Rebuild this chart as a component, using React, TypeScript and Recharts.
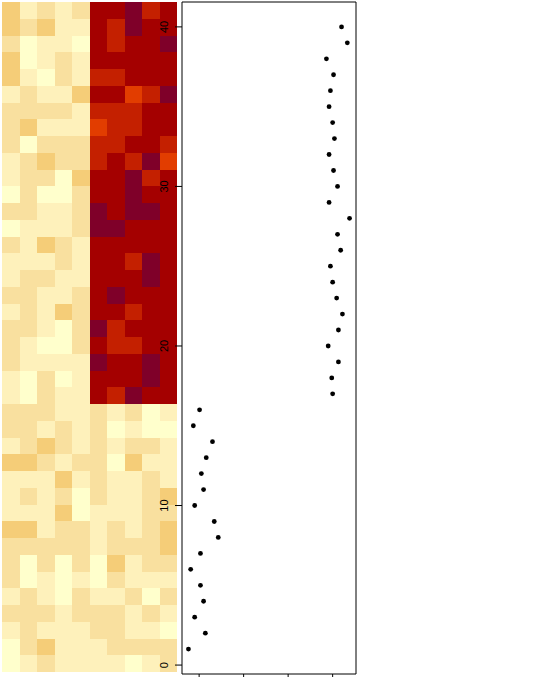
import React from 'react';
import { BarChart, Bar, XAxis, YAxis, ScatterChart, Scatter, ReferenceArea } from 'recharts';

// colour levels: 4 light (low values) then 4 dark (high values)
const HEAT_COLORS = ['#FFFFCC', '#FEF1BB', '#F9E09F', '#F5CD78', '#E23D00', '#C42000', '#A40000', '#7F0029'];

const COLUMNS = ['V1', 'V2', 'V3', 'V4', 'V5', 'V6', 'V7', 'V8', 'V9', 'V10'];

// heatmap levels, top row (row 40) first
const HEAT_ROWS = [
  [3, 1, 2, 1, 2, 6, 6, 7, 5, 6],
  [3, 2, 3, 1, 1, 6, 5, 7, 6, 6],
  [2, 0, 1, 1, 0, 6, 5, 6, 6, 7],
  [3, 0, 1, 2, 1, 6, 6, 6, 6, 6],
  [3, 1, 0, 2, 1, 5, 5, 6, 6, 6],
  [1, 2, 1, 1, 3, 6, 6, 4, 5, 7],
  [2, 2, 2, 2, 1, 5, 5, 5, 6, 6],
  [2, 3, 1, 1, 1, 4, 5, 5, 6, 6],
  [2, 0, 2, 2, 2, 5, 5, 6, 6, 5],
  [1, 2, 3, 2, 2, 5, 6, 5, 7, 4],
  [1, 2, 2, 0, 3, 6, 6, 7, 5, 6],
  [0, 2, 0, 0, 2, 6, 6, 7, 6, 6],
  [2, 2, 1, 1, 2, 7, 6, 7, 7, 6],
  [0, 1, 1, 1, 2, 7, 7, 6, 6, 6],
  [2, 1, 3, 2, 1, 6, 6, 6, 6, 6],
  [1, 1, 1, 2, 1, 6, 6, 5, 7, 6],
  [1, 2, 2, 1, 1, 6, 6, 6, 7, 6],
  [2, 2, 1, 1, 2, 6, 7, 6, 6, 6],
  [1, 2, 1, 3, 2, 6, 6, 5, 6, 6],
  [2, 2, 1, 0, 2, 7, 5, 6, 6, 6],
  [2, 1, 0, 0, 2, 6, 5, 5, 6, 6],
  [2, 1, 1, 1, 1, 7, 6, 6, 7, 6],
  [1, 0, 2, 0, 1, 6, 6, 6, 7, 6],
  [1, 0, 2, 1, 1, 6, 5, 7, 6, 6],
  [2, 2, 2, 1, 1, 2, 1, 2, 0, 1],
  [2, 2, 1, 2, 1, 2, 0, 1, 0, 0],
  [1, 2, 3, 2, 1, 2, 1, 2, 2, 1],
  [3, 3, 2, 1, 2, 2, 0, 3, 1, 1],
  [1, 1, 1, 3, 1, 2, 1, 1, 2, 1],
  [1, 2, 1, 2, 0, 2, 1, 1, 2, 3],
  [1, 1, 1, 3, 0, 1, 1, 1, 2, 2],
  [3, 3, 1, 2, 2, 1, 2, 1, 2, 3],
  [2, 2, 2, 2, 2, 1, 2, 2, 2, 3],
  [2, 0, 2, 0, 2, 0, 3, 1, 2, 2],
  [2, 0, 1, 0, 1, 0, 2, 1, 1, 1],
  [1, 2, 1, 0, 2, 1, 1, 2, 0, 2],
  [2, 2, 2, 1, 2, 2, 2, 1, 2, 1],
  [1, 2, 1, 1, 1, 2, 2, 1, 1, 0],
  [0, 2, 3, 1, 1, 1, 2, 2, 2, 2],
  [0, 1, 2, 1, 1, 1, 1, 0, 1, 2],
];

// side plot: one value per row, row 1 first
const ROW_VALUES = [
  -0.24, 0.14, -0.1, 0.1, 0.03, -0.19, 0.03, 0.43, 0.34, -0.1,
  0.1, 0.05, 0.16, 0.3, -0.13, 0.01, 3.0, 2.98, 3.13, 2.9,
  3.13, 3.22, 3.09, 3.0, 2.95, 3.18, 3.11, 3.38, 2.92, 3.11,
  3.02, 2.92, 3.04, 3.0, 2.92, 2.95, 3.02, 2.86, 3.33, 3.2,
];

const HEAT_TICKS = [0, 0.2, 0.4, 0.6, 0.8, 1];
const ROW_TICKS = [0, 10, 20, 30, 40];
const VALUE_TICKS = [0, 1, 2, 3];

const nRows = HEAT_ROWS.length;
const nCols = COLUMNS.length;
const rowKeys = HEAT_ROWS.map((_, i) => `r${i + 1}`); // bottom row first

const heatData = COLUMNS.map((name) => {
  const d: any = { name };
  rowKeys.forEach((k) => (d[k] = 1));
  return d;
});

const scatterData = ROW_VALUES.map((v, i) => ({ x: v, y: i + 1 }));

const pad = (lo: number, hi: number) => [lo - (hi - lo) * 0.04, hi + (hi - lo) * 0.04];
const xDom = pad(Math.min(...ROW_VALUES), Math.max(...ROW_VALUES));
const yDom = pad(1, nRows);

const font = '"Liberation Sans", Arial, sans-serif';

// labels of these axes fall outside the window, only tick marks show
const NoLabel = () => <g />;

const RowTick = (props: any) => {
  const { x, y, payload } = props;
  return (
    <text x={x} y={y} transform={`rotate(-90 ${x} ${y})`} textAnchor="middle" fontSize={11} fontFamily={font} fill="#000">
      {payload.value}
    </text>
  );
};

export default function App() {
  return (
    <div style={{ position: 'absolute', left: 0, top: 0, width: 539, height: 677, overflow: 'hidden', background: '#fff' }}>
      <div style={{ position: 'absolute', left: -40, top: 0 }}>
        <BarChart width={217} height={720} data={heatData} margin={{ top: 2, right: 0, left: 0, bottom: 0 }} barCategoryGap={0} barGap={0}>
          <XAxis xAxisId="cat" dataKey="name" hide />
          <YAxis yAxisId="cat" type="number" domain={[0, nRows]} hide />
          <XAxis xAxisId="t" type="number" domain={[-0.5 / (nCols - 1), 1 + 0.5 / (nCols - 1)]} ticks={HEAT_TICKS} allowDataOverflow axisLine={false} tickSize={7} height={48} stroke="#000" tick={<NoLabel />} />
          <YAxis yAxisId="t" type="number" domain={[-0.5 / (nRows - 1), 1 + 0.5 / (nRows - 1)]} ticks={HEAT_TICKS} allowDataOverflow axisLine={false} tickSize={7} width={42} stroke="#000" tick={<NoLabel />} />
          {rowKeys.map((k, ri) => {
            const levels = HEAT_ROWS[nRows - 1 - ri];
            return (
              <Bar
                key={k}
                dataKey={k}
                stackId="heat"
                xAxisId="cat"
                yAxisId="cat"
                isAnimationActive={false}
                shape={(p: any) => (
                  <rect x={p.x} y={p.y} width={p.width} height={p.height} fill={HEAT_COLORS[levels[p.index]]} shapeRendering="crispEdges" />
                )}
              />
            );
          })}
        </BarChart>
      </div>

      <div style={{ position: 'absolute', left: 140, top: 0 }}>
        <ScatterChart width={400} height={720} margin={{ top: 2, right: 184, left: 0, bottom: 0 }}>
          <XAxis type="number" dataKey="x" domain={xDom} ticks={VALUE_TICKS} allowDataOverflow axisLine={false} tickSize={7} height={46} stroke="#000" tick={<NoLabel />} />
          <YAxis type="number" dataKey="y" domain={yDom} ticks={ROW_TICKS} allowDataOverflow axisLine={false} tickSize={7} tickMargin={7} width={42} stroke="#000" tick={<RowTick />} />
          <ReferenceArea x1={xDom[0]} x2={xDom[1]} y1={yDom[0]} y2={yDom[1]} fill="none" stroke="#000" strokeWidth={1} ifOverflow="visible" />
          <Scatter
            data={scatterData}
            isAnimationActive={false}
            shape={(p: any) => <circle cx={p.cx} cy={p.cy} r={2.4} fill="#000" />}
          />
        </ScatterChart>
      </div>
    </div>
  );
}
